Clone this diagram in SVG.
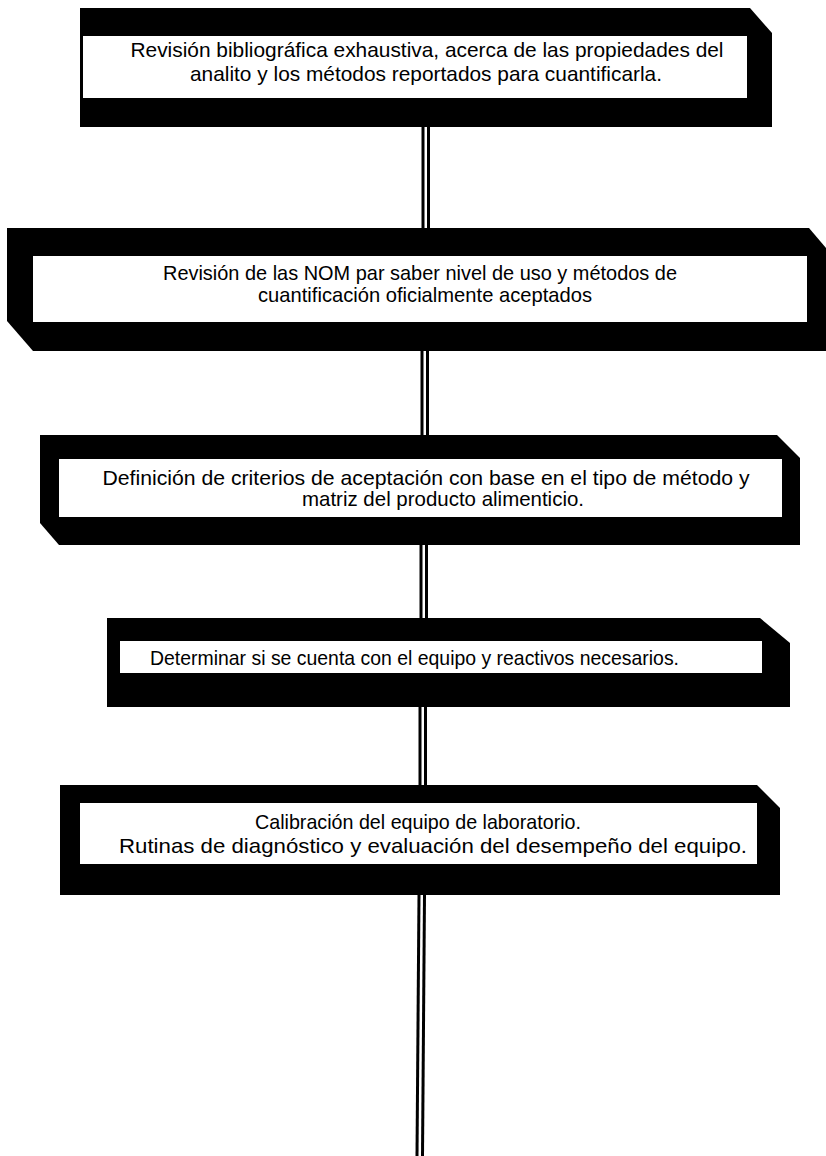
<svg xmlns="http://www.w3.org/2000/svg" width="826" height="1156" viewBox="0 0 826 1156">
<style>
.frame{fill:#000}
.inner{fill:#fff}
.t{font-family:"Liberation Sans",Arial,sans-serif;font-size:21px;fill:#000;text-anchor:middle}
.w{stroke:#000;stroke-width:3;fill:none}
</style>
<rect width="826" height="1156" fill="#fff"/>
<g id="connectors">
<line class="w" x1="423" y1="127" x2="423" y2="228"/><line class="w" x1="428.5" y1="127" x2="428.5" y2="228"/>
<line class="w" x1="422" y1="351" x2="422" y2="435"/><line class="w" x1="427.5" y1="351" x2="427.5" y2="435"/>
<line class="w" x1="421" y1="545" x2="421" y2="618"/><line class="w" x1="426.5" y1="545" x2="426.5" y2="618"/>
<line class="w" x1="420" y1="707" x2="420" y2="785"/><line class="w" x1="425.5" y1="707" x2="425.5" y2="785"/>
<line class="w" x1="419" y1="895" x2="417" y2="1156"/><line class="w" x1="424.5" y1="895" x2="422.5" y2="1156"/>
</g>
<g id="node1">
<polygon class="frame" points="80,8 750,8 772,33 772,127 80,127"/>
<rect class="inner" x="83" y="36" width="664" height="62"/>
<text class="t" x="427" y="57" textLength="593" lengthAdjust="spacingAndGlyphs">Revisión bibliográfica exhaustiva, acerca de las propiedades del</text>
<text class="t" x="426" y="81" textLength="472" lengthAdjust="spacingAndGlyphs">analito y los métodos reportados para cuantificarla.</text>
</g>
<g id="node2">
<polygon class="frame" points="7,228 809,228 826,248 826,351 33,351 7,321"/>
<rect class="inner" x="33" y="256" width="774" height="66"/>
<text class="t" x="420" y="280" textLength="514" lengthAdjust="spacingAndGlyphs">Revisión de las NOM par saber nivel de uso y métodos de</text>
<text class="t" x="425" y="302" textLength="334" lengthAdjust="spacingAndGlyphs">cuantificación oficialmente aceptados</text>
</g>
<g id="node3">
<polygon class="frame" points="40,435 777,435 800,458 800,545 59,545 40,523"/>
<rect class="inner" x="59" y="459" width="723" height="58"/>
<text class="t" x="426" y="485" textLength="647" lengthAdjust="spacingAndGlyphs">Definición de criterios de aceptación con base en el tipo de método y</text>
<text class="t" x="443" y="506" textLength="282" lengthAdjust="spacingAndGlyphs">matriz del producto alimenticio.</text>
</g>
<g id="node4">
<polygon class="frame" points="107,618 760,618 790,643 790,707 107,707"/>
<rect class="inner" x="120" y="641" width="642" height="32"/>
<text class="t" x="414.5" y="665" textLength="529" lengthAdjust="spacingAndGlyphs">Determinar si se cuenta con el equipo y reactivos necesarios.</text>
</g>
<g id="node5">
<polygon class="frame" points="60,785 757,785 780,808 780,895 60,895"/>
<rect class="inner" x="80" y="803" width="677" height="61"/>
<text class="t" x="418" y="829" textLength="326" lengthAdjust="spacingAndGlyphs">Calibración del equipo de laboratorio.</text>
<text class="t" x="433" y="853" textLength="628" lengthAdjust="spacingAndGlyphs">Rutinas de diagnóstico y evaluación del desempeño del equipo.</text>
</g>
</svg>
